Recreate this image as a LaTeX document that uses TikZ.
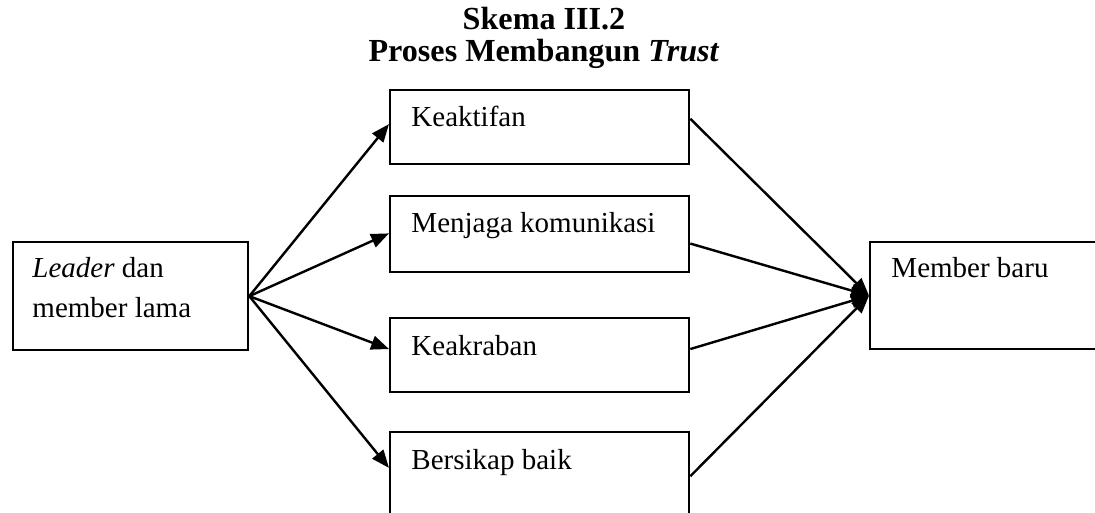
\documentclass[tikz,border=0pt]{standalone}
\usepackage{fontspec}
\setmainfont{Liberation Serif}
\usetikzlibrary{arrows.meta,calc}
\newcommand\pxu{0.4138pt}
\begin{document}
\begin{tikzpicture}[x=0.4138pt,y=-0.4138pt,
  box/.style={draw, line width=0.95pt, inner sep=0pt, anchor=north west},
  lbl/.style={anchor=base west, inner sep=0pt, align=left,
    font=\fontsize{12}{16.55}\selectfont},
  ttl/.style={inner sep=0pt, anchor=base, align=center,
    font=\bfseries\fontsize{13.3}{13.2}\selectfont},
  conn/.style={line width=1pt, -{Triangle[length=7.4pt,width=5.8pt]}}]
\clip (0,0) rectangle (1095,512);

% title (two lines, anchored on the baseline of the last one)
\node[ttl] (title) at (544,61) {Skema III.2\\Proses Membangun \textit{Trust}};

% boxes
\node[box, minimum width=235*\pxu, minimum height=108*\pxu] (lb) at (12,241) {};
\node[box, minimum width=299*\pxu, minimum height=74*\pxu] (b1) at (389,89) {};
\node[box, minimum width=299*\pxu, minimum height=76*\pxu] (b2) at (389,195) {};
\node[box, minimum width=299*\pxu, minimum height=74*\pxu] (b3) at (389,317) {};
\node[box, minimum width=299*\pxu, minimum height=90*\pxu] (b4) at (389,431) {};
\node[box, minimum width=240*\pxu, minimum height=107*\pxu] (rb) at (869,241) {};

% texts (a two-line node sits on the baseline of its last line)
\node[lbl] (tl) at (32,317) {\textit{Leader} dan\\member lama};
\node[lbl] (t1b) at (411,126) {Keaktifan};
\node[lbl] (t2b) at (411,232) {Menjaga komunikasi};
\node[lbl] (t3b) at (411,355) {Keakraban};
\node[lbl] (t4b) at (411,469) {Bersikap baik};
\node[lbl] (trb) at (891,277) {Member baru};

% connectors from the source box
\draw[conn] (lb.east) -- ($(b1.north west)!0.46!(b1.south west)$);
\draw[conn] (lb.east) -- ($(b2.north west)!0.49!(b2.south west)$);
\draw[conn] (lb.east) -- ($(b3.north west)!0.42!(b3.south west)$);
\draw[conn] (lb.east) -- ($(b4.north west)!0.40!(b4.south west)$);

% connectors into the target box
\draw[conn] ($(b1.north east)!0.39!(b1.south east)$) -- (rb.west);
\draw[conn] ($(b2.north east)!0.62!(b2.south east)$) -- (rb.west);
\draw[conn] ($(b3.north east)!0.42!(b3.south east)$) -- (rb.west);
\draw[conn] ($(b4.north east)!0.49!(b4.south east)$) -- (rb.west);
\end{tikzpicture}
\end{document}
